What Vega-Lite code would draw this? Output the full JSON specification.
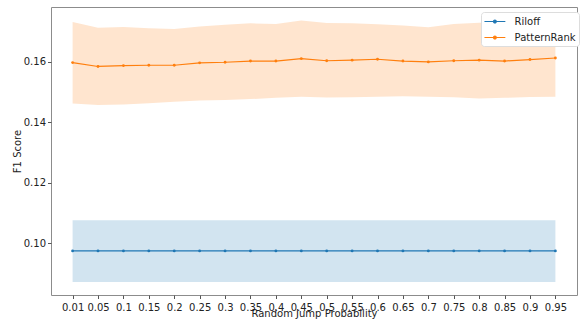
{
  "$schema": "https://vega.github.io/schema/vega-lite/v6.json",
  "width": 526,
  "height": 288,
  "autosize": "none",
  "padding": {"left": 51, "top": 7, "right": 6, "bottom": 25},
  "config": {
    "font": "DejaVu Sans",
    "view": {"stroke": "#8c8c8c", "strokeWidth": 1},
    "axis": {"grid": false, "domain": false, "labelFontSize": 10, "titleFontSize": 10, "titleFontWeight": "normal", "labelColor": "#222", "titleColor": "#222", "tickColor": "#555", "tickSize": 3.5}
  },
  "data": {"values": [
    {"p":"0.01","series":"Riloff","f1":0.0974,"lo":0.0871,"hi":0.1076},
    {"p":"0.05","series":"Riloff","f1":0.0974,"lo":0.0871,"hi":0.1076},
    {"p":"0.1","series":"Riloff","f1":0.0974,"lo":0.0871,"hi":0.1076},
    {"p":"0.15","series":"Riloff","f1":0.0974,"lo":0.0871,"hi":0.1076},
    {"p":"0.2","series":"Riloff","f1":0.0974,"lo":0.0871,"hi":0.1076},
    {"p":"0.25","series":"Riloff","f1":0.0974,"lo":0.0871,"hi":0.1076},
    {"p":"0.3","series":"Riloff","f1":0.0974,"lo":0.0871,"hi":0.1076},
    {"p":"0.35","series":"Riloff","f1":0.0974,"lo":0.0871,"hi":0.1076},
    {"p":"0.4","series":"Riloff","f1":0.0974,"lo":0.0871,"hi":0.1076},
    {"p":"0.45","series":"Riloff","f1":0.0974,"lo":0.0871,"hi":0.1076},
    {"p":"0.5","series":"Riloff","f1":0.0974,"lo":0.0871,"hi":0.1076},
    {"p":"0.55","series":"Riloff","f1":0.0974,"lo":0.0871,"hi":0.1076},
    {"p":"0.6","series":"Riloff","f1":0.0974,"lo":0.0871,"hi":0.1076},
    {"p":"0.65","series":"Riloff","f1":0.0974,"lo":0.0871,"hi":0.1076},
    {"p":"0.7","series":"Riloff","f1":0.0974,"lo":0.0871,"hi":0.1076},
    {"p":"0.75","series":"Riloff","f1":0.0974,"lo":0.0871,"hi":0.1076},
    {"p":"0.8","series":"Riloff","f1":0.0974,"lo":0.0871,"hi":0.1076},
    {"p":"0.85","series":"Riloff","f1":0.0974,"lo":0.0871,"hi":0.1076},
    {"p":"0.9","series":"Riloff","f1":0.0974,"lo":0.0871,"hi":0.1076},
    {"p":"0.95","series":"Riloff","f1":0.0974,"lo":0.0871,"hi":0.1076},
    {"p":"0.01","series":"PatternRank","f1":0.1598,"lo":0.1462,"hi":0.1732},
    {"p":"0.05","series":"PatternRank","f1":0.1585,"lo":0.1457,"hi":0.1713},
    {"p":"0.1","series":"PatternRank","f1":0.1588,"lo":0.1459,"hi":0.1716},
    {"p":"0.15","series":"PatternRank","f1":0.1589,"lo":0.1463,"hi":0.1712},
    {"p":"0.2","series":"PatternRank","f1":0.1589,"lo":0.1468,"hi":0.1709},
    {"p":"0.25","series":"PatternRank","f1":0.1597,"lo":0.1472,"hi":0.1717},
    {"p":"0.3","series":"PatternRank","f1":0.1599,"lo":0.1474,"hi":0.1723},
    {"p":"0.35","series":"PatternRank","f1":0.1603,"lo":0.1477,"hi":0.1728},
    {"p":"0.4","series":"PatternRank","f1":0.1603,"lo":0.1481,"hi":0.1726},
    {"p":"0.45","series":"PatternRank","f1":0.1611,"lo":0.1485,"hi":0.1737},
    {"p":"0.5","series":"PatternRank","f1":0.1604,"lo":0.1482,"hi":0.1729},
    {"p":"0.55","series":"PatternRank","f1":0.1606,"lo":0.1483,"hi":0.1728},
    {"p":"0.6","series":"PatternRank","f1":0.1609,"lo":0.1485,"hi":0.1725},
    {"p":"0.65","series":"PatternRank","f1":0.1603,"lo":0.1486,"hi":0.1721},
    {"p":"0.7","series":"PatternRank","f1":0.1600,"lo":0.1485,"hi":0.1715},
    {"p":"0.75","series":"PatternRank","f1":0.1604,"lo":0.1483,"hi":0.1726},
    {"p":"0.8","series":"PatternRank","f1":0.1606,"lo":0.1479,"hi":0.1730},
    {"p":"0.85","series":"PatternRank","f1":0.1603,"lo":0.1481,"hi":0.1734},
    {"p":"0.9","series":"PatternRank","f1":0.1608,"lo":0.1484,"hi":0.1734},
    {"p":"0.95","series":"PatternRank","f1":0.1613,"lo":0.1485,"hi":0.1737}
  ]},
  "encoding": {
    "x": {"field": "p", "type": "ordinal", "sort": null,
      "scale": {"type": "point", "padding": 0.85},
      "axis": {"title": "Random Jump Probability", "labelAngle": 0, "labelPadding": 4, "titleBaseline": "alphabetic", "titleY": 21}},
    "color": {"field": "series", "type": "nominal",
      "scale": {"domain": ["Riloff", "PatternRank"], "range": ["#1f77b4", "#ff7f0e"]},
      "legend": {"title": null, "orient": "none", "legendX": 430, "legendY": 5,
        "symbolType": "M-1.1,0H2.7M0.55,0A0.25,0.25 0 1,1 1.05,0A0.25,0.25 0 1,1 0.55,0",
        "symbolSize": 121, "symbolStrokeWidth": 1.2, "symbolOpacity": 1,
        "labelFontSize": 10, "labelColor": "#222", "labelOffset": 17.6, "rowPadding": 4,
        "fillColor": "white", "strokeColor": "#ddd", "cornerRadius": 3, "padding": 3}}
  },
  "layer": [
    {
      "mark": {"type": "area", "opacity": 0.2},
      "encoding": {
        "y": {"field": "lo", "type": "quantitative",
          "scale": {"domain": [0.0828, 0.1782], "nice": false, "zero": false},
          "axis": {"title": "F1 Score", "values": [0.10, 0.12, 0.14, 0.16], "format": ".2f", "labelPadding": 2, "titlePadding": 1}},
        "y2": {"field": "hi"}
      }
    },
    {
      "mark": {"type": "line", "strokeWidth": 1.2, "point": {"size": 8, "filled": true}},
      "encoding": {
        "y": {"field": "f1", "type": "quantitative"}
      }
    }
  ]
}
